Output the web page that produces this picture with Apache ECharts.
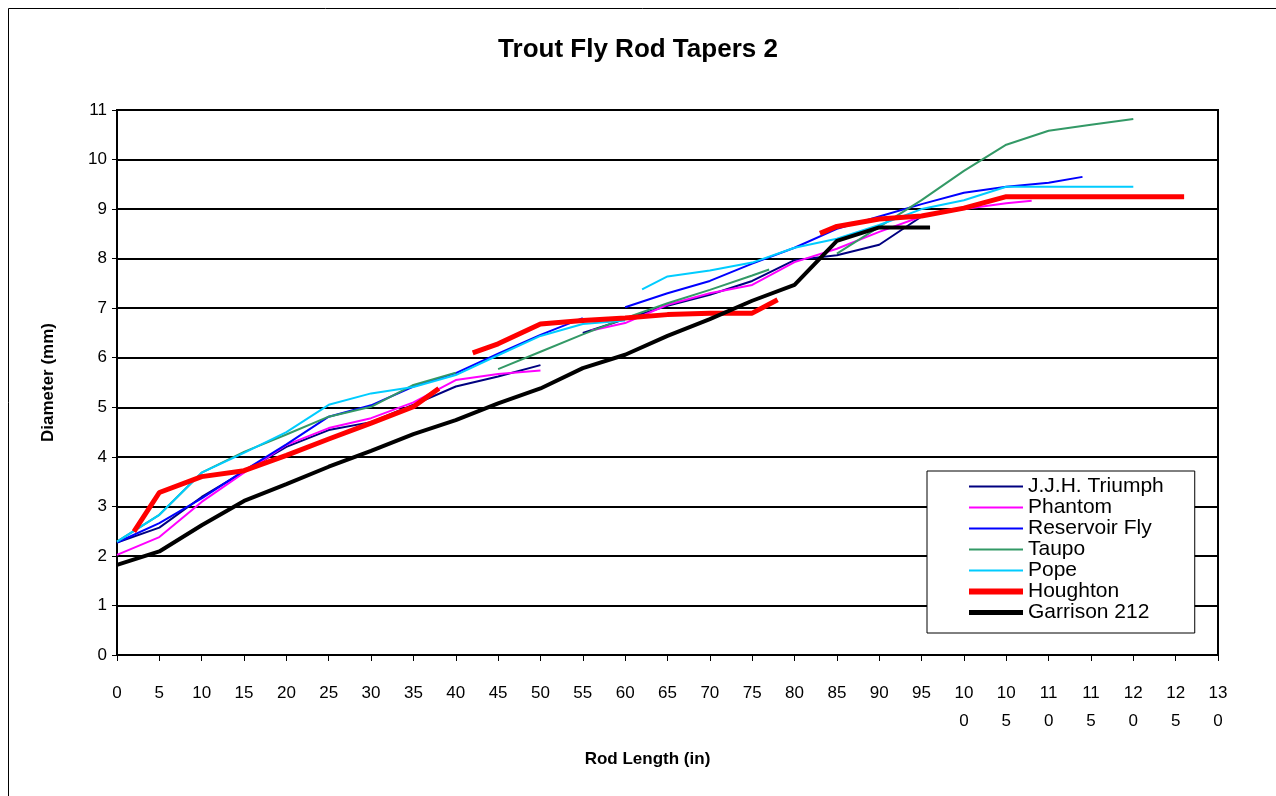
<!DOCTYPE html>
<html>
<head>
<meta charset="utf-8">
<script src="https://cdn.jsdelivr.net/npm/echarts@6/dist/echarts.min.js"></script>
<style>
  html, body { margin: 0; padding: 0; background: #fff; }
  #chart { width: 1276px; height: 796px; }
</style>
</head>
<body>
<div id="chart"></div>
<script>
// rod sections: [length (in), diameter (mm)]
var triumph = [
    [[0, 2.27], [5, 2.57], [10, 3.19], [15, 3.7], [20, 4.2], [25, 4.54], [30, 4.7], [35, 5.05], [40, 5.42], [45, 5.62], [50, 5.85]],
    [[55, 6.5], [60, 6.78], [65, 7.05], [70, 7.27], [75, 7.55], [80, 7.97], [85, 8.07], [90, 8.28], [95, 8.85], [100, 9.02]]
];
var phantom = [
    [[0, 2.02], [5, 2.38], [10, 3.09], [15, 3.68], [20, 4.24], [25, 4.58], [30, 4.78], [35, 5.1], [40, 5.55], [45, 5.67], [50, 5.74]],
    [[56, 6.55], [60, 6.7], [65, 7.07], [70, 7.3], [75, 7.47], [80, 7.93], [85, 8.2], [90, 8.54], [95, 8.85], [100, 9.0], [105, 9.12], [108, 9.17]]
];
var reservoir = [
    [[0, 2.27], [5, 2.66], [10, 3.16], [15, 3.72], [20, 4.25], [25, 4.81], [30, 5.04], [35, 5.42], [40, 5.69], [45, 6.08], [50, 6.46], [55, 6.8]],
    [[60, 7.02], [65, 7.3], [70, 7.55], [75, 7.9], [80, 8.22], [85, 8.6], [90, 8.85], [95, 9.1], [100, 9.33], [105, 9.45], [110, 9.53], [114, 9.65]]
];
var taupo = [
    [[0, 2.29], [5, 2.83], [10, 3.68], [15, 4.1], [20, 4.45], [25, 4.81], [30, 5.01], [35, 5.45], [40, 5.7]],
    [[45, 5.77], [50, 6.12], [55, 6.47], [60, 6.8], [65, 7.1], [70, 7.37], [75, 7.66], [77, 7.78]],
    [[85, 8.1], [90, 8.64], [95, 9.18], [100, 9.77], [105, 10.3], [110, 10.58], [115, 10.7], [120, 10.82]]
];
var pope = [
    [[0, 2.29], [5, 2.83], [10, 3.68], [15, 4.08], [20, 4.5], [25, 5.05], [30, 5.28], [35, 5.41], [40, 5.65], [45, 6.05], [50, 6.44], [55, 6.68], [60, 6.75]],
    [[62, 7.38], [65, 7.64], [70, 7.76], [75, 7.92], [80, 8.22], [85, 8.4], [90, 8.68], [95, 9.0], [100, 9.18], [105, 9.45], [110, 9.45], [115, 9.45], [120, 9.45]]
];
var houghton = [
    [[2, 2.49], [5, 3.28], [10, 3.6], [15, 3.72], [20, 4.03], [25, 4.36], [30, 4.68], [35, 5.01], [38, 5.38]],
    [[42, 6.1], [45, 6.28], [50, 6.68], [55, 6.75], [60, 6.8], [65, 6.87], [70, 6.9], [75, 6.9], [78, 7.17]],
    [[83, 8.51], [85, 8.65], [90, 8.8], [95, 8.86], [100, 9.02], [105, 9.25], [110, 9.25], [115, 9.25], [120, 9.25], [126, 9.25]]
];
var garrison = [
    [[0, 1.82], [5, 2.09], [10, 2.62], [15, 3.11], [20, 3.45], [25, 3.8], [30, 4.12], [35, 4.46], [40, 4.74], [45, 5.08], [50, 5.38],
     [55, 5.79], [60, 6.06], [65, 6.44], [70, 6.78], [75, 7.15], [80, 7.47], [85, 8.36], [90, 8.63], [96, 8.63]]
];

var names = ['J.J.H. Triumph', 'Phantom', 'Reservoir Fly', 'Taupo', 'Pope', 'Houghton', 'Garrison 212'];
var colors = ['#000080', '#ff00ff', '#0000ff', '#339966', '#00ccff', '#ff0000', '#000000'];
var widths = [2, 2, 2, 2, 2, 5, 4];
var rods = [triumph, phantom, reservoir, taupo, pope, houghton, garrison];

// join the sections with a break point between them
function joinSections(sections) {
    var out = [];
    sections.forEach(function (s, i) {
        if (i > 0) out.push([s[0][0] - 0.5, '-']);
        out = out.concat(s);
    });
    return out;
}

var font = "'Liberation Sans', Arial, sans-serif";
var chart = echarts.init(document.getElementById('chart'));

var option = {
    animation: false,
    backgroundColor: '#fff',
    color: colors,
    title: {
        text: 'Trout Fly Rod Tapers 2',
        left: 'center',
        top: 32,
        textStyle: { fontFamily: font, fontSize: 26, fontWeight: 'bold', color: '#000' }
    },
    legend: {
        orient: 'vertical',
        left: 927,
        top: 471,
        padding: [5, 31, 10, 39],
        borderColor: '#000',
        borderWidth: 1,
        backgroundColor: '#fff',
        itemWidth: 54,
        itemHeight: 14,
        itemGap: 0,
        itemStyle: { opacity: 0 },
        data: names.map(function (n, i) {
            return { name: n, lineStyle: { width: widths[i] + (i > 4 ? 1 : 0), color: colors[i] } };
        }),
        textStyle: { fontFamily: font, fontSize: 21, lineHeight: 21, color: '#000' }
    },
    grid: {
        left: 117,
        right: 58,
        top: 110,
        bottom: 141,
        show: true,
        borderColor: '#000',
        borderWidth: 2
    },
    xAxis: {
        type: 'value',
        min: 0,
        max: 130,
        interval: 5,
        name: 'Rod Length (in)',
        nameLocation: 'middle',
        nameGap: 96,
        nameTextStyle: { fontFamily: font, fontSize: 17, fontWeight: 'bold', color: '#000', padding: [0, 40, 0, 0] },
        axisLine: { lineStyle: { color: '#000', width: 2 } },
        axisTick: { show: true, length: 6, lineStyle: { color: '#000' } },
        splitLine: { show: false },
        axisLabel: {
            margin: 24,
            fontFamily: font,
            fontSize: 17,
            lineHeight: 28,
            color: '#000',
            formatter: function (v) {
                var s = String(v);
                return s.length > 2 ? s.slice(0, 2) + '\n' + s.slice(2) : s;
            }
        }
    },
    yAxis: {
        type: 'value',
        min: 0,
        max: 11,
        interval: 1,
        name: 'Diameter (mm)',
        nameLocation: 'middle',
        nameGap: 60,
        nameTextStyle: { fontFamily: font, fontSize: 17, fontWeight: 'bold', color: '#000' },
        axisLine: { show: true, lineStyle: { color: '#000', width: 2 } },
        axisTick: { show: true, length: 5, lineStyle: { color: '#000' } },
        splitLine: { show: true, lineStyle: { color: '#000', width: 2 } },
        axisLabel: { margin: 10, fontFamily: font, fontSize: 17, color: '#000' }
    },
    graphic: [{
        type: 'rect',
        shape: { x: 8.5, y: 8.5, width: 1400, height: 1000 },
        style: { fill: null, stroke: '#000', lineWidth: 1 },
        silent: true
    }],
    series: rods.map(function (r, i) {
        return {
            name: names[i],
            type: 'line',
            symbol: 'none',
            connectNulls: false,
            data: joinSections(r),
            lineStyle: { width: widths[i], color: colors[i] },
            itemStyle: { color: colors[i] }
        };
    })
};

chart.setOption(option);
</script>
</body>
</html>
